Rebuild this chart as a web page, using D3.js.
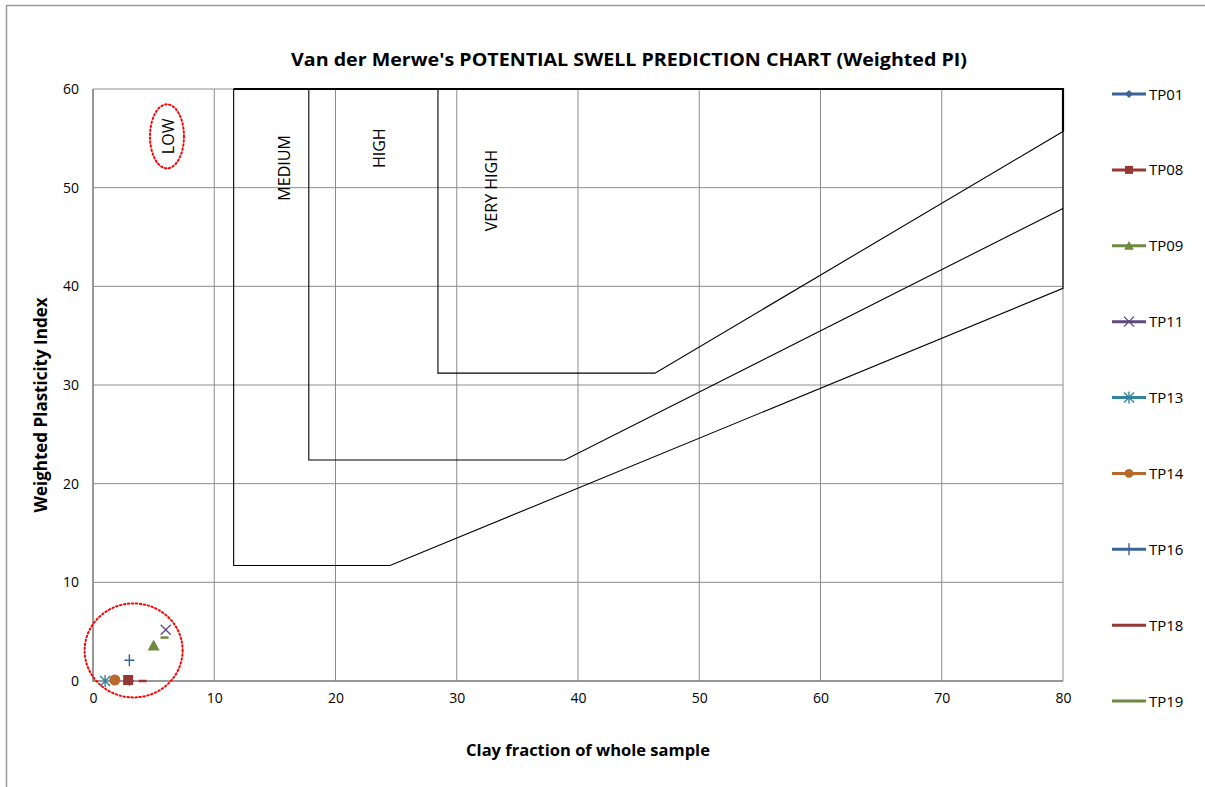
<!DOCTYPE html>
<html><head><meta charset="utf-8">
<script src="https://cdn.jsdelivr.net/npm/d3@7"></script>
<style>body{margin:0;background:#fff}svg{display:block}text{font-family:"Open Sans",sans-serif}</style>
</head><body>
<svg id="c" width="1205" height="787"></svg>
<script>
// ---- data ----
const xTicks = [0,10,20,30,40,50,60,70,80];
const yTicks = [0,10,20,30,40,50,60];
const seriesNames = ["TP01","TP08","TP09","TP11","TP13","TP14","TP16","TP18","TP19"];
const seriesColors = ["#3a6396","#953735","#71893f","#5e4a7e","#31849b","#b8692b","#3a6396","#953735","#71893f"];
const seriesMarkers = ["diamond","square","triangle","x","asterisk","circle","plus","dash","dash"];
const seriesX = [3.0, 2.9, 5.0, 6.0, 1.0, 1.8, 3.0, 4.1, 5.9];
const seriesY = [0.0, 0.1, 3.6, 5.2, 0.0, 0.1, 2.1, 0.0, 4.4];
// zone boundaries (Van der Merwe)
const lowMedium = [[11.6,60],[11.6,11.7],[24.5,11.7],[80,39.8],[80,60]];
const mediumHigh = [[17.8,60],[17.8,22.4],[38.9,22.4],[80,47.9]];
const highVeryHigh = [[28.45,60],[28.45,31.2],[46.35,31.2],[80,55.7]];
const topEdge = [[11.6,60],[80,60],[80,55.7]];
const zoneLabels = ["LOW","MEDIUM","HIGH","VERY HIGH"];
const zoneLabelX = [6.2, 15.8, 23.6, 32.9];
const zoneLabelY = [55.2, 52.0, 54.0, 49.7];
const title = "Van der Merwe's POTENTIAL SWELL PREDICTION CHART (Weighted PI)";
const xTitle = "Clay fraction of whole sample";
const yTitle = "Weighted Plasticity Index";

// ---- layout ----
const svg = d3.select("#c");
const L = 93, R = 1063, T = 89, B = 681;
const x = d3.scaleLinear().domain([0,80]).range([L,R]);
const y = d3.scaleLinear().domain([0,60]).range([B,T]);

// outer border
svg.append("path").attr("d","M6.5,787 V5.5 H1205").attr("fill","none").attr("stroke","#9a9a9a").attr("stroke-width",1.5);

// grid
const g = svg.append("g");
g.selectAll(".vg").data(xTicks).join("line")
  .attr("x1",d=>x(d)).attr("x2",d=>x(d)).attr("y1",T).attr("y2",B)
  .attr("stroke","#8c8c8c").attr("stroke-width",1);
g.selectAll(".hg").data(yTicks).join("line")
  .attr("y1",d=>y(d)).attr("y2",d=>y(d)).attr("x1",L).attr("x2",R)
  .attr("stroke","#8c8c8c").attr("stroke-width",1);
g.append("line").attr("x1",L).attr("x2",L).attr("y1",T).attr("y2",B+1).attr("stroke","#888").attr("stroke-width",1.5);
g.append("line").attr("x1",L).attr("x2",R).attr("y1",B).attr("y2",B).attr("stroke","#888").attr("stroke-width",1.5);

// tick labels
const xa = d3.axisBottom(x).tickValues(xTicks).tickSize(0).tickPadding(12);
const ya = d3.axisLeft(y).tickValues(yTicks).tickSize(0).tickPadding(14);
const gx = svg.append("g").attr("transform",`translate(0,${B})`).call(xa);
const gy = svg.append("g").attr("transform",`translate(${L},0)`).call(ya);
[gx,gy].forEach(a=>{a.select(".domain").remove();a.selectAll("text").attr("font-size",14).attr("fill","#000").attr("font-family","Open Sans, sans-serif");});

// zone boundaries
const line = d3.line().x(d=>x(d[0])).y(d=>y(d[1]));
[lowMedium, mediumHigh, highVeryHigh].forEach(d=>{
  svg.append("path").attr("d",line(d)).attr("fill","none").attr("stroke","#000").attr("stroke-width",1.1);
});
svg.append("path").attr("d",line(topEdge)).attr("fill","none").attr("stroke","#000").attr("stroke-width",2.2);

// zone labels
zoneLabels.forEach((t,i)=>{
  svg.append("text").attr("transform",`translate(${x(zoneLabelX[i])+5.5},${y(zoneLabelY[i])}) rotate(-90)`)
    .attr("text-anchor","middle").attr("font-size",16).attr("fill","#000").text(t);
});

// red dotted ellipses
svg.append("ellipse").attr("cx",x(6.1)).attr("cy",y(55.2)).attr("rx",17).attr("ry",32)
  .attr("fill","none").attr("stroke","#ff0000").attr("stroke-width",2).attr("stroke-dasharray","1.5,2.5").attr("stroke-linecap","round");
svg.append("ellipse").attr("cx",x(3.35)).attr("cy",y(3.1)).attr("rx",49).attr("ry",47)
  .attr("fill","none").attr("stroke","#ff0000").attr("stroke-width",2).attr("stroke-dasharray","1.5,2.5").attr("stroke-linecap","round");

// markers
function marker(sel, type, color, s){
  s = s||1;
  if(type==="diamond") sel.append("path").attr("d",`M0,${-5*s}L${5*s},0L0,${5*s}L${-5*s},0Z`).attr("fill",color);
  else if(type==="square") sel.append("rect").attr("x",-5*s).attr("y",-5*s).attr("width",10*s).attr("height",10*s).attr("fill",color);
  else if(type==="triangle") sel.append("path").attr("d",`M0,${-6*s}L${6*s},${5*s}L${-6*s},${5*s}Z`).attr("fill",color);
  else if(type==="circle") sel.append("circle").attr("r",5.5*s).attr("fill",color);
  else if(type==="x") sel.append("path").attr("d",`M-5,-5L5,5M-5,5L5,-5`).attr("stroke",color).attr("stroke-width",1.4);
  else if(type==="plus") sel.append("path").attr("d",`M-5,0H5M0,-6V6`).attr("stroke",color).attr("stroke-width",1.4);
  else if(type==="asterisk") sel.append("path").attr("d",`M-5,-5L5,5M-5,5L5,-5M0,-6V6`).attr("stroke",color).attr("stroke-width",1.4);
  else if(type==="dash") sel.append("path").attr("d",`M-4,0H4`).attr("stroke",color).attr("stroke-width",2.5);
}
const drawOrder = [0,7,6,1,4,5,2,8,3];
drawOrder.forEach(i=>{
  const gg = svg.append("g").attr("transform",`translate(${x(seriesX[i])},${y(seriesY[i])})`);
  marker(gg, seriesMarkers[i], seriesColors[i]);
});

// legend
const ly = d3.scalePoint().domain(seriesNames).range([94,701]);
seriesNames.forEach((n,i)=>{
  const gg = svg.append("g").attr("transform",`translate(0,${ly(n)})`);
  gg.append("line").attr("x1",1112).attr("x2",1146).attr("stroke",seriesColors[i]).attr("stroke-width",3);
  const m = gg.append("g").attr("transform","translate(1129,0)");
  if(seriesMarkers[i]!=="dash") marker(m, seriesMarkers[i], seriesColors[i], 0.8);
  gg.append("text").attr("x",1149).attr("y",5.5).attr("font-size",15).attr("fill","#000").text(n);
});

// titles
svg.append("text").attr("x",629).attr("y",66).attr("text-anchor","middle").attr("font-size",18.5).attr("font-weight","bold").attr("textLength",676).attr("lengthAdjust","spacingAndGlyphs").text(title);
svg.append("text").attr("x",588).attr("y",756).attr("text-anchor","middle").attr("font-size",16.5).attr("font-weight","bold").text(xTitle);
svg.append("text").attr("transform","translate(47,405) rotate(-90)").attr("text-anchor","middle").attr("font-size",17).attr("font-weight","bold").text(yTitle);
</script>
</body></html>
